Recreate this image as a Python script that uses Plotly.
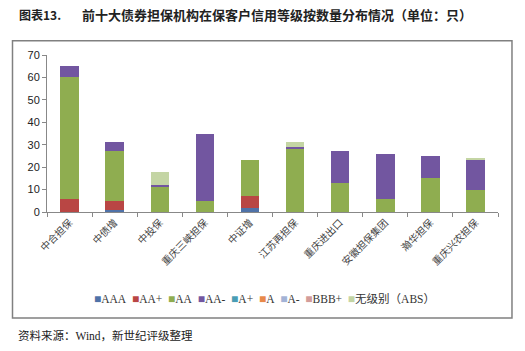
import plotly.graph_objects as go

categories = ["中合担保", "中债增", "中投保", "重庆三峡担保", "中证增",
              "江苏再担保", "重庆进出口", "安徽担保集团", "瀚华担保", "重庆兴农担保"]
grades = ["AAA", "AA+", "AA", "AA-", "A+", "A", "A-", "BBB+", "无级别（ABS）"]
values = {
    "AAA":  [0, 1, 0, 0, 2, 0, 0, 0, 0, 0],
    "AA+":  [6, 4, 0, 0, 5, 0, 0, 0, 0, 0],
    "AA":   [54, 22, 11, 5, 16, 28, 13, 6, 15, 10],
    "AA-":  [5, 4, 1, 30, 0, 1, 14, 20, 10, 13],
    "A+":   [0, 0, 0, 0, 0, 0, 0, 0, 0, 0],
    "A":    [0, 0, 0, 0, 0, 0, 0, 0, 0, 0],
    "A-":   [0, 0, 0, 0, 0, 0, 0, 0, 0, 0],
    "BBB+": [0, 0, 0, 0, 0, 0, 0, 0, 0, 0],
    "无级别（ABS）": [0, 0, 6, 0, 0, 2, 0, 0, 0, 1],
}
colors = ["#4F72A8", "#B94644", "#8FAD50", "#7256A0", "#4A9DB4",
          "#E8894A", "#A3B3D6", "#D39C9A", "#C4D5A4"]
yticks = [0, 10, 20, 30, 40, 50, 60, 70]

fig = go.Figure()
for g, c in zip(grades, colors):
    fig.add_trace(go.Bar(x=categories, y=values[g], name=g, marker_color=c,
                         marker_line_width=0, showlegend=False))

legend_text = "&nbsp;&nbsp;".join(
    f"<span style='color:{c};font-size:12px'>■</span>{g}" for g, c in zip(grades, colors))

fig.update_layout(
    barmode="stack",
    bargap=0.59,
    width=525, height=351,
    margin=dict(l=47, r=27, t=55, b=139),
    paper_bgcolor="white", plot_bgcolor="white",
    font=dict(family="Liberation Sans, Arial, sans-serif", size=11, color="#222"),
    xaxis=dict(showline=True, linecolor="#888", linewidth=1, ticks="outside",
               tickson="boundaries", ticklen=4, tickcolor="#888", tickangle=-45,
               tickfont=dict(family="Noto Sans CJK SC", size=10, color="#444")),
    yaxis=dict(range=[0, 70], tickvals=yticks, showgrid=False, zeroline=False,
               showline=True, linecolor="#888", linewidth=1, ticks="outside",
               ticklen=4, tickcolor="#888",
               tickfont=dict(family="Liberation Sans, Arial", size=11, color="#222")),
    shapes=[dict(type="rect", xref="paper", yref="paper",
                 x0=-0.0765, x1=1.031, y0=-0.675, y1=1.091,
                 line=dict(color="#808080", width=1.5), fillcolor="rgba(0,0,0,0)",
                 layer="below")],
    annotations=[
        dict(text="<b>图表13.</b>", xref="paper", yref="paper",
             x=(17 - 47) / 451, y=(212 - 14) / 157, xanchor="left", yanchor="middle",
             showarrow=False, font=dict(family="Noto Sans CJK SC", size=12, color="#222")),
        dict(text="<b>前十大债券担保机构在保客户信用等级按数量分布情况（单位：只）</b>",
             xref="paper", yref="paper",
             x=(80 - 47) / 451, y=(212 - 14) / 157, xanchor="left", yanchor="middle",
             showarrow=False, font=dict(family="Noto Sans CJK SC", size=13, color="#222")),
        dict(text=legend_text, xref="paper", yref="paper",
             x=(264 - 47) / 451, y=(212 - 299) / 157, xanchor="center", yanchor="middle",
             showarrow=False,
             font=dict(family="Liberation Serif, Noto Sans CJK SC", size=11.5, color="#333")),
        dict(text="资料来源：Wind，新世纪评级整理", xref="paper", yref="paper",
             x=(16 - 47) / 451, y=(212 - 335) / 157, xanchor="left", yanchor="middle",
             showarrow=False,
             font=dict(family="Liberation Serif, Noto Sans CJK SC", size=11.5, color="#222")),
    ],
)

fig.write_html("out.html")
